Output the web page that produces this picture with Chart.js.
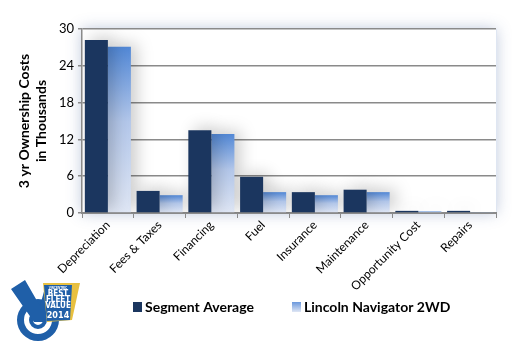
<!DOCTYPE html>
<html>
<head>
<meta charset="utf-8">
<script src="https://cdn.jsdelivr.net/npm/chart.js@4"></script>
<style>
  html, body { margin: 0; padding: 0; background: #fff; }
  #wrap { width: 512px; height: 353px; }
</style>
</head>
<body>
<div id="wrap"><canvas id="cost-chart" width="512" height="353"></canvas></div>
<script>
// 3 yr ownership cost, in thousands
const categories   = ['Depreciation', 'Fees & Taxes', 'Financing', 'Fuel', 'Insurance', 'Maintenance', 'Opportunity Cost', 'Repairs'];
const segmentAvg   = [28.2, 3.6, 13.5, 5.9, 3.4, 3.8, 0.35, 0.35];
const lincolnNav   = [27.1, 2.9, 12.9, 3.4, 2.9, 3.4, 0.25, 0.15];
const yTicks       = [0, 6, 12, 18, 24, 30];

const FONT = 'Lato, "Open Sans", sans-serif';
const SEG_COLOR = '#1b365f';

function lincolnFill(ctx) {
    const chart = ctx.chart;
    const y = chart.scales.y;
    if (!chart.chartArea || !y || ctx.parsed == null) return '#8fb0e2';
    const top = y.getPixelForValue(ctx.parsed.y);
    const bot = y.getPixelForValue(0);
    if (!isFinite(top) || bot - top < 1) return '#8fb0e2';
    const g = chart.ctx.createLinearGradient(0, top, 0, bot);
    g.addColorStop(0, '#5288d6');
    g.addColorStop(0.45, '#b3c7ea');
    g.addColorStop(1, '#dfe6f4');
    return g;
}

// soft shadow round the plot area and behind bars
const shadowPlugin = {
    id: 'shadows',
    beforeDraw(chart) {
        const { ctx, chartArea: a } = chart;
        ctx.save();
        ctx.shadowColor = 'rgba(60,90,150,0.35)';
        ctx.shadowBlur = 14;
        ctx.fillStyle = '#fff';
        ctx.fillRect(a.left, a.top, a.right - a.left, a.bottom - a.top);
        ctx.restore();
        ctx.save();
        ctx.strokeStyle = '#dfe6f2';
        ctx.beginPath();
        ctx.moveTo(a.right + 0.5, a.top);
        ctx.lineTo(a.right + 0.5, a.bottom);
        ctx.stroke();
        ctx.restore();
    },
    beforeDatasetsDraw(chart) {
        const ctx = chart.ctx;
        ctx.save();
        ctx.shadowColor = 'rgba(0,0,0,0.2)';
        ctx.shadowBlur = 16;
        ctx.shadowOffsetX = 6;
        ctx.shadowOffsetY = -3;
    },
    afterDatasetsDraw(chart) {
        chart.ctx.restore();
    }
};

// legend row under the axis labels
const legendPlugin = {
    id: 'legendRow',
    afterDraw(chart) {
        const ctx = chart.ctx;
        const items = [
            { x: 133, text: chart.data.datasets[0].label, color: SEG_COLOR },
            { x: 292, text: chart.data.datasets[1].label, color: null }
        ];
        ctx.save();
        ctx.font = 'bold 14px ' + FONT;
        ctx.textBaseline = 'middle';
        ctx.fillStyle = '#000';
        items.forEach(it => {
            if (it.color) {
                ctx.fillStyle = it.color;
            } else {
                const g = ctx.createLinearGradient(0, 302, 0, 312);
                g.addColorStop(0, '#6b98dc');
                g.addColorStop(1, '#dfe6f4');
                ctx.fillStyle = g;
            }
            ctx.fillRect(it.x, 302, 9, 10);
            ctx.fillStyle = '#000';
            ctx.fillText(it.text, it.x + 12, 307);
        });
        ctx.restore();
    }
};

// rough badge in bottom-left corner
const badgePlugin = {
    id: 'badge',
    afterDraw(chart) {
        const ctx = chart.ctx;
        ctx.save();
        ctx.fillStyle = '#1f5fa8';
        ctx.beginPath();
        ctx.arc(38, 320, 21, 0, Math.PI * 2);
        ctx.arc(38, 320, 14, 0, Math.PI * 2, true);
        ctx.fill();
        ctx.beginPath();
        ctx.arc(38, 320, 9, 0, Math.PI * 2);
        ctx.arc(38, 320, 5, 0, Math.PI * 2, true);
        ctx.fill();
        ctx.beginPath();
        ctx.moveTo(11, 289); ctx.lineTo(25, 280); ctx.lineTo(40, 306);
        ctx.lineTo(46, 284); ctx.lineTo(54, 290); ctx.lineTo(44, 322);
        ctx.lineTo(34, 322);
        ctx.closePath();
        ctx.fill();
        ctx.fillStyle = '#e8c040';
        ctx.beginPath();
        ctx.moveTo(43, 283); ctx.lineTo(80, 283); ctx.lineTo(72, 320);
        ctx.lineTo(47, 322); ctx.closePath();
        ctx.fill();
        ctx.fillStyle = '#1f5fa8';
        ctx.beginPath();
        ctx.moveTo(44, 285); ctx.lineTo(72, 285); ctx.lineTo(70, 320);
        ctx.lineTo(47, 321); ctx.closePath();
        ctx.fill();
        ctx.fillStyle = '#fff';
        ctx.textAlign = 'center';
        ctx.font = 'bold 3px sans-serif';
        ctx.fillText('VINCENTRIC', 58, 289);
        ctx.font = 'bold 8px "DejaVu Sans Condensed", sans-serif';
        ctx.fillText('BEST', 58, 296);
        ctx.fillText('FLEET', 58, 302);
        ctx.fillText('VALUE', 58, 308);
        ctx.font = 'bold 9px "DejaVu Sans Condensed", sans-serif';
        ctx.fillText('2014', 58, 318);
        ctx.restore();
    }
};

new Chart(document.getElementById('cost-chart').getContext('2d'), {
    type: 'bar',
    data: {
        labels: categories,
        datasets: [
            { label: 'Segment Average', data: segmentAvg, backgroundColor: SEG_COLOR,
              categoryPercentage: 0.89, barPercentage: 1.0 },
            { label: 'Lincoln Navigator 2WD', data: lincolnNav, backgroundColor: lincolnFill,
              categoryPercentage: 0.89, barPercentage: 1.0 }
        ]
    },
    options: {
        responsive: false,
        animation: false,
        layout: { padding: { top: 29, right: 16, left: 16, bottom: 63 } },
        plugins: {
            tooltip: { enabled: false },
            legend: { display: false }
        },
        scales: {
            x: {
                grid: { drawOnChartArea: false, offset: true, tickLength: 5, color: '#8a8a8a' },
                border: { color: '#8a8a8a', width: 2 },
                ticks: { color: '#000', font: { family: FONT, size: 12 }, minRotation: 45, maxRotation: 45, padding: 0 },
                afterFit(scale) { scale.height = 77; }
            },
            y: {
                min: 0, max: 30,
                afterBuildTicks(scale) { scale.ticks = yTicks.map(v => ({ value: v })); },
                grid: { color: '#8a8a8a', lineWidth: 1.5, tickLength: 4 },
                border: { color: '#8a8a8a', width: 1.5 },
                ticks: { color: '#000', font: { family: FONT, size: 13 }, padding: 4 },
                title: {
                    display: true,
                    text: ['3 yr Ownership Costs', 'in Thousands'],
                    color: '#000',
                    font: { family: FONT, size: 14, weight: 'bold' },
                    padding: { top: 0, bottom: 8 }
                },
                afterFit(scale) { scale.width = 66; }
            }
        }
    },
    plugins: [shadowPlugin, legendPlugin, badgePlugin]
});
</script>
</body>
</html>
